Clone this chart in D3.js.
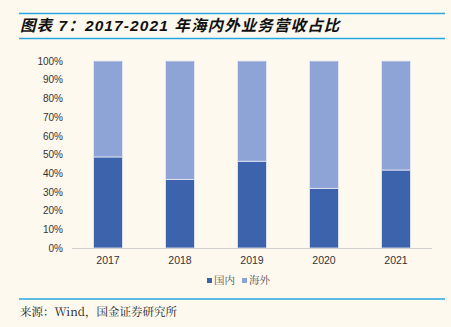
<!DOCTYPE html>
<html><head><meta charset="utf-8">
<script src="https://cdn.jsdelivr.net/npm/d3@7"></script>
<style>body{margin:0;background:#fdf9ef;}svg{display:block;}</style>
</head><body><svg id="c" width="451" height="327"></svg>
<script>
const years = ["2017","2018","2019","2020","2021"];
const domestic = [48.7, 36.7, 46.4, 31.9, 41.7];
const overseas = [51.3, 63.3, 53.6, 68.1, 58.3];
const yTicks = [0,10,20,30,40,50,60,70,80,90,100];
const seriesNames = ["国内","海外"];
const colors = ["#3d63ad","#8fa4d6"];

const svg = d3.select("#c");
svg.append("rect").attr("width",451).attr("height",327).attr("fill","#fdf9ef");
// title lines
svg.append("line").attr("x1",19).attr("x2",445).attr("y1",13.5).attr("y2",13.5).attr("stroke","#27a6df").attr("stroke-width",1.5);
svg.append("line").attr("x1",19).attr("x2",445).attr("y1",38.5).attr("y2",38.5).attr("stroke","#27a6df").attr("stroke-width",1.5);
svg.append("text").attr("x",20).attr("y",31).attr("font-family","Liberation Sans, Noto Sans CJK SC, sans-serif")
  .attr("font-size",15.5).attr("font-weight","bold").attr("font-style","italic").attr("fill","#111")
  .attr("letter-spacing",1.1)
  .text("图表 7：2017-2021 年海内外业务营收占比");
svg.append("line").attr("x1",19).attr("x2",445).attr("y1",299).attr("y2",299).attr("stroke","#27a6df").attr("stroke-width",1.5);
svg.append("text").attr("x",20).attr("y",316).attr("font-family","Noto Serif CJK SC, Noto Sans CJK SC, serif")
  .attr("font-size",11.5).attr("fill","#222").text("来源：Wind，国金证券研究所");

const x = d3.scaleBand().domain(years).range([72,432]).paddingInner(0.6).paddingOuter(0.3);
const y = d3.scaleLinear().domain([0,100]).range([248,61]);

const data = years.map((yr,i)=>({year:yr, "国内":domestic[i], "海外":overseas[i]}));
const stack = d3.stack().keys(seriesNames)(data);

svg.append("g").selectAll("g").data(stack).join("g").attr("fill",(d,i)=>colors[i])
  .selectAll("rect").data(d=>d).join("rect")
  .attr("x",d=>x(d.data.year)).attr("width",x.bandwidth())
  .attr("y",d=>y(d[1])).attr("height",d=>y(d[0])-y(d[1]))
  .attr("stroke","#e4e8f3").attr("stroke-width",0.8);

// axes
const yAxis = d3.axisLeft(y).tickValues(yTicks).tickFormat(d=>d+"%").tickSize(0).tickPadding(0);
const gy = svg.append("g").attr("transform","translate(63,0)").call(yAxis);
gy.select(".domain").remove();
gy.selectAll("text").attr("font-family","Liberation Sans, Arial, sans-serif").attr("font-size",10).attr("fill","#333");

svg.append("line").attr("x1",72).attr("x2",432).attr("y1",248.5).attr("y2",248.5).attr("stroke","#d0d0d0").attr("stroke-width",1);
const xAxis = d3.axisBottom(x).tickSize(0).tickPadding(9);
const gx = svg.append("g").attr("transform","translate(0,248)").call(xAxis);
gx.select(".domain").remove();
gx.selectAll("text").attr("font-family","Liberation Sans, Arial, sans-serif").attr("font-size",10.5).attr("fill","#333");

// legend
const leg = svg.append("g").attr("transform","translate(207,283)");
const lx = [0,35];
seriesNames.forEach((n,i)=>{
  leg.append("rect").attr("x",lx[i]).attr("y",-5).attr("width",5).attr("height",5).attr("fill",colors[i]);
  leg.append("text").attr("x",lx[i]+7).attr("y",1).attr("font-family","Noto Serif CJK SC, Noto Sans CJK SC, sans-serif")
    .attr("font-size",10.5).attr("fill","#555").text(n);
});
</script></body></html>
